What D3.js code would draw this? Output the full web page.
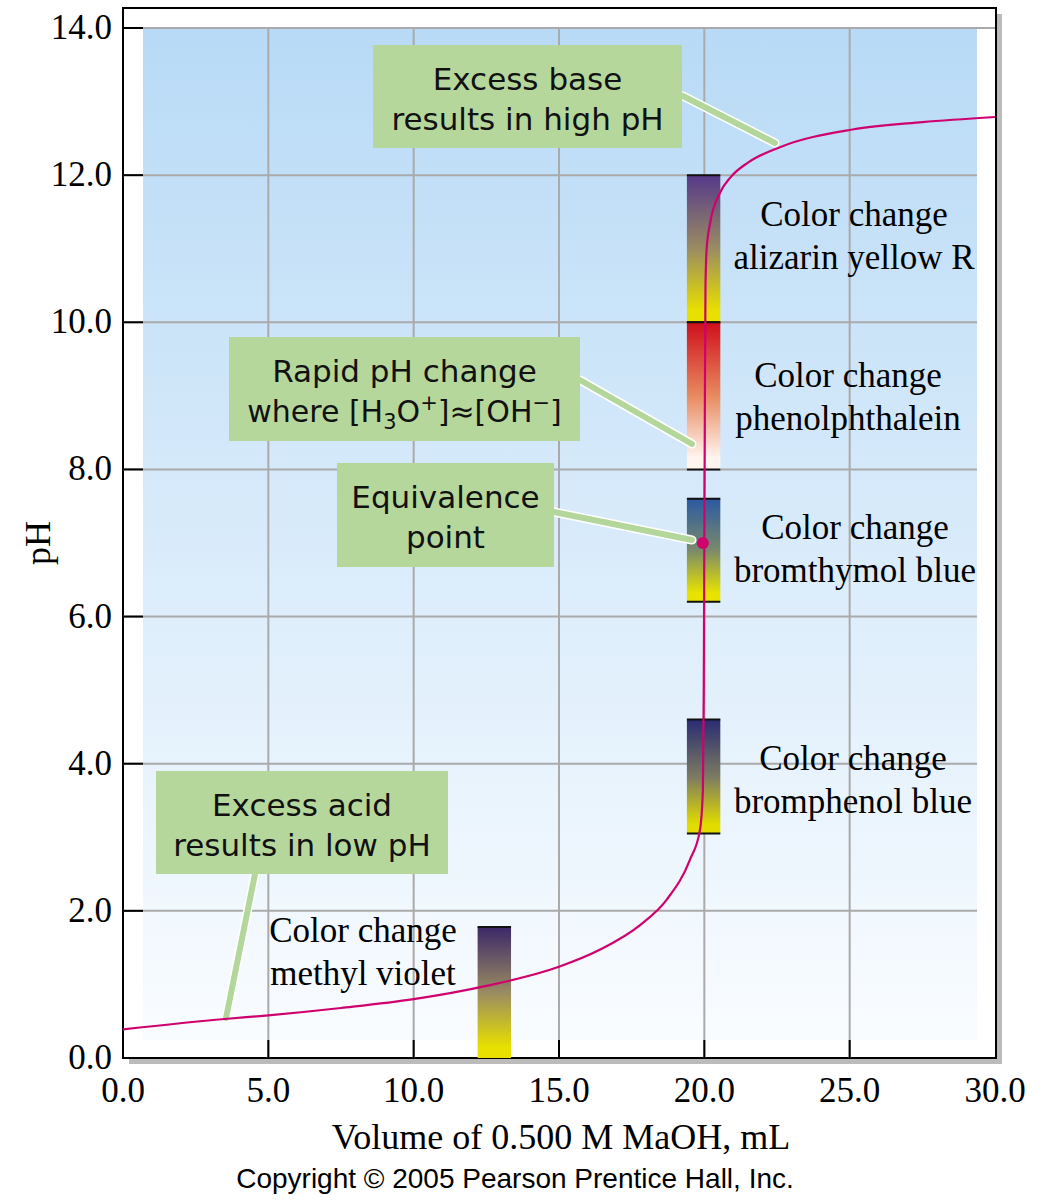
<!DOCTYPE html>
<html><head><meta charset="utf-8">
<script src="https://cdn.jsdelivr.net/npm/d3@7"></script>
<style>body{margin:0;background:#fff}</style></head>
<body><svg id="c" width="1040" height="1200"></svg>
<script>
const xTicks=[0,5,10,15,20,25,30];
const yTicks=[0,2,4,6,8,10,12,14];
const curveVol=[0,3.5,5,7.5,10,12.5,15,16.4,17.8,18.7,19.5,19.85,19.95,19.98,20.0,20.02,20.04,20.08,20.2,20.54,20.9,21.5,22.6,25.1,27.5,30];
const curvePH=[0.39,0.53,0.58,0.68,0.8,0.98,1.24,1.47,1.81,2.15,2.69,3.1,3.64,5.0,7.0,9.0,10.5,11.0,11.35,11.76,11.97,12.17,12.38,12.62,12.72,12.79];
const indNames=["alizarin yellow R","phenolphthalein","bromthymol blue","bromphenol blue","methyl violet"];
const indLow=[10,8,6.2,3.05,0];
const indHigh=[12,10,7.6,4.6,1.78];
const indX0=[19.4,19.4,19.4,19.4,12.2];
const indX1=[20.55,20.55,20.55,20.55,13.35];
const indColors=[["#56398a","#9a8c62","#e8e000"],["#cf0f1c","#e88a60","#fff4ee"],["#2b5aa3","#7b8a6a","#e8e400"],["#2a2c72","#7c7a62","#e2dc00"],["#3c2868","#9a8c62","#e8e000"]];

const svg=d3.select("#c");
const x=d3.scaleLinear().domain([0,30]).range([123,995]);
const y=d3.scaleLinear().domain([0,14]).range([1058,28]);
const defs=svg.append("defs");
const bg=defs.append("linearGradient").attr("id","bg").attr("x1",0).attr("y1",0).attr("x2",0).attr("y2",1);
bg.append("stop").attr("offset",0).attr("stop-color","#b8daf6");
bg.append("stop").attr("offset",1).attr("stop-color","#f9fcff");
indColors.forEach((c,i)=>{const g=defs.append("linearGradient").attr("id","g"+i).attr("x1",0).attr("y1",0).attr("x2",0).attr("y2",1);
 c.forEach((s,j)=>g.append("stop").attr("offset",j/2*(j==2?0.92:1)).attr("stop-color",s));
 g.append("stop").attr("offset",1).attr("stop-color",c[2]);});

svg.append("rect").attr("x",129).attr("y",14).attr("width",873).attr("height",1050).attr("fill","#bbb");
svg.append("rect").attr("x",123).attr("y",8).attr("width",873).attr("height",1050).attr("fill","#fff").attr("stroke","#000").attr("stroke-width",2);
svg.append("rect").attr("x",143).attr("y",y(14)).attr("width",834).attr("height",1040-y(14)).attr("fill","url(#bg)");
svg.selectAll(".hg").data(yTicks.filter(d=>d>0)).join("line").attr("x1",x(0)).attr("x2",d=>d==14?x(30):977).attr("y1",y).attr("y2",y).attr("stroke","#aaa").attr("stroke-width",2);
svg.selectAll(".vg").data(xTicks.filter(d=>d>0&&d<30)).join("line").attr("x1",x).attr("x2",x).attr("y1",y(14)).attr("y2",y(0)).attr("stroke","#aaa").attr("stroke-width",2);
svg.selectAll(".yt").data(yTicks).join("line").attr("x1",123).attr("x2",143).attr("y1",y).attr("y2",y).attr("stroke","#000").attr("stroke-width",2);
svg.selectAll(".xt").data(xTicks.filter(d=>d>0&&d<30)).join("line").attr("x1",x).attr("x2",x).attr("y1",1040).attr("y2",1058).attr("stroke","#000").attr("stroke-width",2);
const serif="Liberation Serif";
svg.selectAll(".yl").data(yTicks).join("text").attr("x",112).attr("y",d=>y(d)+11).attr("text-anchor","end").attr("font-family",serif).attr("font-size",35).text(d=>d.toFixed(1));
svg.selectAll(".xl").data(xTicks).join("text").attr("x",x).attr("y",1102).attr("text-anchor","middle").attr("font-family",serif).attr("font-size",35).text(d=>d.toFixed(1));
svg.append("text").attr("transform","translate(50,543) rotate(-90)").attr("text-anchor","middle").attr("font-family",serif).attr("font-size",36).text("pH");
svg.append("text").attr("x",561).attr("y",1149).attr("text-anchor","middle").attr("font-family",serif).attr("font-size",36).text("Volume of 0.500 M MaOH, mL");
svg.append("text").attr("x",515).attr("y",1188).attr("text-anchor","middle").attr("font-family","Liberation Sans").attr("font-size",28).text("Copyright © 2005 Pearson Prentice Hall, Inc.");
indNames.forEach((n,i)=>{
 svg.append("rect").attr("x",x(indX0[i])).attr("y",y(indHigh[i])).attr("width",x(indX1[i])-x(indX0[i])).attr("height",y(indLow[i])-y(indHigh[i])).attr("fill","url(#g"+i+")");
 svg.append("line").attr("x1",x(indX0[i])).attr("x2",x(indX1[i])).attr("y1",y(indHigh[i])).attr("y2",y(indHigh[i])).attr("stroke","#111").attr("stroke-width",2);
 if(indLow[i]>0) svg.append("line").attr("x1",x(indX0[i])).attr("x2",x(indX1[i])).attr("y1",y(indLow[i])).attr("y2",y(indLow[i])).attr("stroke","#111").attr("stroke-width",2);
});
const labPos=[[854,215],[848,376],[855,528],[853,759],[363,931]];
indNames.forEach((n,i)=>{const t=svg.append("text").attr("text-anchor","middle").attr("font-family",serif).attr("font-size",35);
 t.append("tspan").attr("x",labPos[i][0]).attr("y",labPos[i][1]+11).text("Color change");
 t.append("tspan").attr("x",labPos[i][0]).attr("y",labPos[i][1]+54).text(n);});
const callouts=[
 {b:[373,45,309,103],l:["Excess base","results in high pH"],p:[[683,96],[775,143]]},
 {b:[229,337,351,104],l:["Rapid pH change",null],p:[[580,380],[692,444]]},
 {b:[337,463,217,104],l:["Equivalence","point"],p:[[554,512],[692,540]]},
 {b:[156,771,292,103],l:["Excess acid","results in low pH"],p:[[255,874],[226,1018]]}];
callouts.forEach(c=>{
 svg.append("line").attr("x1",c.p[0][0]).attr("y1",c.p[0][1]).attr("x2",c.p[1][0]).attr("y2",c.p[1][1]).attr("stroke","#fff").attr("stroke-width",9).attr("stroke-linecap","round");
 svg.append("line").attr("x1",c.p[0][0]).attr("y1",c.p[0][1]).attr("x2",c.p[1][0]).attr("y2",c.p[1][1]).attr("stroke","#b3d69a").attr("stroke-width",6).attr("stroke-linecap","round");
 svg.append("rect").attr("x",c.b[0]).attr("y",c.b[1]).attr("width",c.b[2]).attr("height",c.b[3]).attr("fill","#b6d79c");
 const cx=c.b[0]+c.b[2]/2;
 const t=svg.append("text").attr("text-anchor","middle").attr("font-family","DejaVu Sans").attr("font-size",31).attr("fill","#111");
 t.append("tspan").attr("x",cx).attr("y",c.b[1]+45).text(c.l[0]);
 if(c.l[1]) t.append("tspan").attr("x",cx).attr("y",c.b[1]+85).text(c.l[1]);
 else{const t2=t.append("tspan").attr("x",cx).attr("y",c.b[1]+85).attr("font-size",30);
  t2.append("tspan").text("where [H");
  t2.append("tspan").attr("font-size",21).attr("dy",7).text("3");
  t2.append("tspan").attr("dy",-7).text("O");
  t2.append("tspan").attr("font-size",21).attr("dy",-12).text("+");
  t2.append("tspan").attr("dy",12).text("]≈[OH");
  t2.append("tspan").attr("font-size",21).attr("dy",-12).text("−");
  t2.append("tspan").attr("dy",12).text("]");}
});
const pts=curveVol.map((v,i)=>[v,curvePH[i]]);
svg.append("path").attr("d",d3.line().x(d=>x(d[0])).y(d=>y(d[1])).curve(d3.curveMonotoneX)(pts)).attr("fill","none").attr("stroke","#d0006f").attr("stroke-width",2.2);
svg.append("circle").attr("cx",x(19.95)).attr("cy",y(7)).attr("r",6).attr("fill","#d0006f");
</script></body></html>
